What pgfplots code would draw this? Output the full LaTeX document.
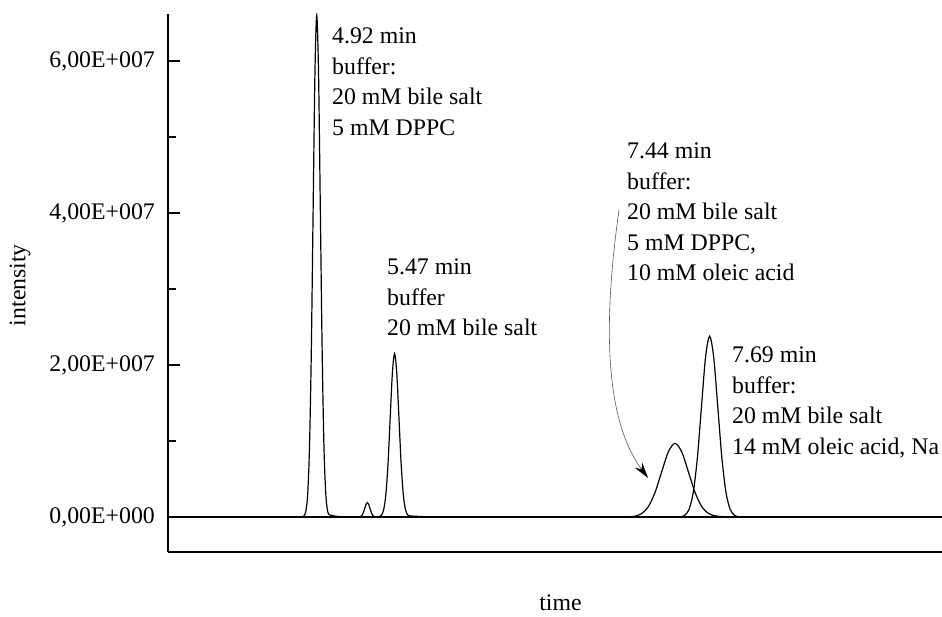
\documentclass[border=0pt]{standalone}
\usepackage{fontspec}
\setmainfont{Liberation Serif}
\usepackage{pgfplots}
\pgfplotsset{compat=1.18}
\usetikzlibrary{arrows.meta}
\newcommand{\ff}{\fontsize{23.8}{30.5}\selectfont}
\begin{document}
\begin{tikzpicture}
\useasboundingbox (0,0) rectangle (942pt,617pt);
\clip (0,0) rectangle (942pt,617pt);
\begin{axis}[
  at={(168pt,65pt)}, anchor=south west,
  scale only axis, width=774pt, height=538pt,
  xmin=3.869, xmax=9.328, ymin=-4.6e6, ymax=6.62e7,
  axis x line*=bottom, axis y line*=left,
  axis line style={line width=2pt, -},
  xtick=\empty,
  ytick={0,2e7,4e7,6e7},
  yticklabels={{0,00E+000},{2,00E+007},{4,00E+007},{6,00E+007}},
  minor ytick={1e7,3e7,5e7},
  scaled y ticks=false,
  tick align=inside, major tick length=12pt, minor tick length=8pt,
  every tick/.style={line width=2pt, black},
  yticklabel style={font=\ff, anchor=east, inner sep=0pt, xshift=-13pt},
  xlabel={time}, ylabel={intensity},
  xlabel style={font=\ff, at={(rel axis cs:0.507,0)}, anchor=base, yshift=-59pt},
  ylabel style={font=\ff, at={(rel axis cs:0,0.496)}, anchor=center, rotate=0, yshift=148pt},
  clip=true,
]
% baseline
\addplot[line width=1.5pt] coordinates {(3.869,0) (9.328,0)};
% 4.92 min
\addplot[line width=1.2pt, smooth] coordinates {
(4.8152,0) (4.8281,1.45e5) (4.8409,7.33e5) (4.8538,2.90e6) (4.8666,8.93e6)
(4.8795,2.143e7) (4.8923,4.003e7) (4.9052,5.825e7) (4.918,6.6e7)
(4.9309,5.825e7) (4.9437,4.003e7) (4.9566,2.143e7) (4.9694,8.93e6)
(4.9823,2.90e6) (4.9951,7.33e5) (5.008,3.0e5) (5.04,1.5e5) (5.08,0.5e5) (5.12,0)};
% small peak
\addplot[line width=1.2pt, smooth] coordinates {
(5.211,0) (5.2201,2.1e4) (5.2293,8.3e4) (5.2384,2.57e5) (5.2476,6.17e5)
(5.2567,1.152e6) (5.2659,1.677e6) (5.275,1.9e6) (5.2842,1.677e6)
(5.2933,1.152e6) (5.3025,6.17e5) (5.3116,2.57e5) (5.3208,8.3e4)
(5.3299,2.1e4) (5.339,0)};
% 5.47 min
\addplot[line width=1.2pt, smooth] coordinates {
(5.345,0) (5.3589,4.7e4) (5.3743,2.39e5) (5.3898,9.44e5) (5.4052,2.909e6)
(5.4207,6.98e6) (5.4361,1.304e7) (5.4516,1.897e7) (5.467,2.15e7)
(5.4825,1.897e7) (5.4979,1.304e7) (5.5134,6.98e6) (5.5288,2.909e6)
(5.5443,9.44e5) (5.5597,2.6e5) (5.5752,1.5e5) (5.62,1.0e5) (5.68,5e4) (5.75,0)};
% 7.44 min
\addplot[line width=1.2pt, smooth] coordinates {
(7.0642,0) (7.1118,2.12e4) (7.1594,1.08e5) (7.207,4.26e5) (7.2546,1.312e6)
(7.3022,3.15e6) (7.3498,5.883e6) (7.3974,8.56e6) (7.445,9.7e6)
(7.4926,8.56e6) (7.5402,5.883e6) (7.5878,3.15e6) (7.6354,1.312e6)
(7.683,4.6e5) (7.7306,1.5e5) (7.7782,6e4) (7.8258,2e4) (7.873,0)};
% 7.69 min
\addplot[line width=1.2pt, smooth] coordinates {
(7.4578,0) (7.4867,5.2e4) (7.5156,2.64e5) (7.5445,1.045e6) (7.5734,3.22e6)
(7.6023,7.73e6) (7.6312,1.4435e7) (7.6601,2.1e7) (7.689,2.38e7)
(7.7179,2.1e7) (7.7468,1.4435e7) (7.7757,7.73e6) (7.8046,3.22e6)
(7.8335,1.045e6) (7.8624,2.64e5) (7.8913,5.2e4) (7.9202,0)};
\end{axis}
% annotations
\begin{scope}[every node/.style={font=\ff, anchor=base west, inner sep=0pt}]
\node at (332pt,573pt) {4.92 min};
\node at (332pt,542.5pt) {buffer:};
\node at (332pt,512pt) {20 mM bile salt};
\node at (332pt,481.5pt) {5 mM DPPC};
\node at (387pt,342pt) {5.47 min};
\node at (387pt,311.5pt) {buffer};
\node at (387pt,281pt) {20 mM bile salt};
\node at (627pt,458pt) {7.44 min};
\node at (627pt,427.5pt) {buffer:};
\node at (627pt,397pt) {20 mM bile salt};
\node at (627pt,366.5pt) {5 mM DPPC,};
\node at (627pt,336pt) {10 mM oleic acid};
\node at (732pt,254pt) {7.69 min};
\node at (732pt,223.5pt) {buffer:};
\node at (732pt,193pt) {20 mM bile salt};
\node at (732pt,162.5pt) {14 mM oleic acid, Na};
\end{scope}
\draw[line width=0.6pt, black!65, -{Stealth[length=16pt,width=9pt,black]}]
  (619pt,407pt) .. controls (604pt,300pt) and (603pt,200pt) .. (648pt,139pt);
\end{tikzpicture}
\end{document}
